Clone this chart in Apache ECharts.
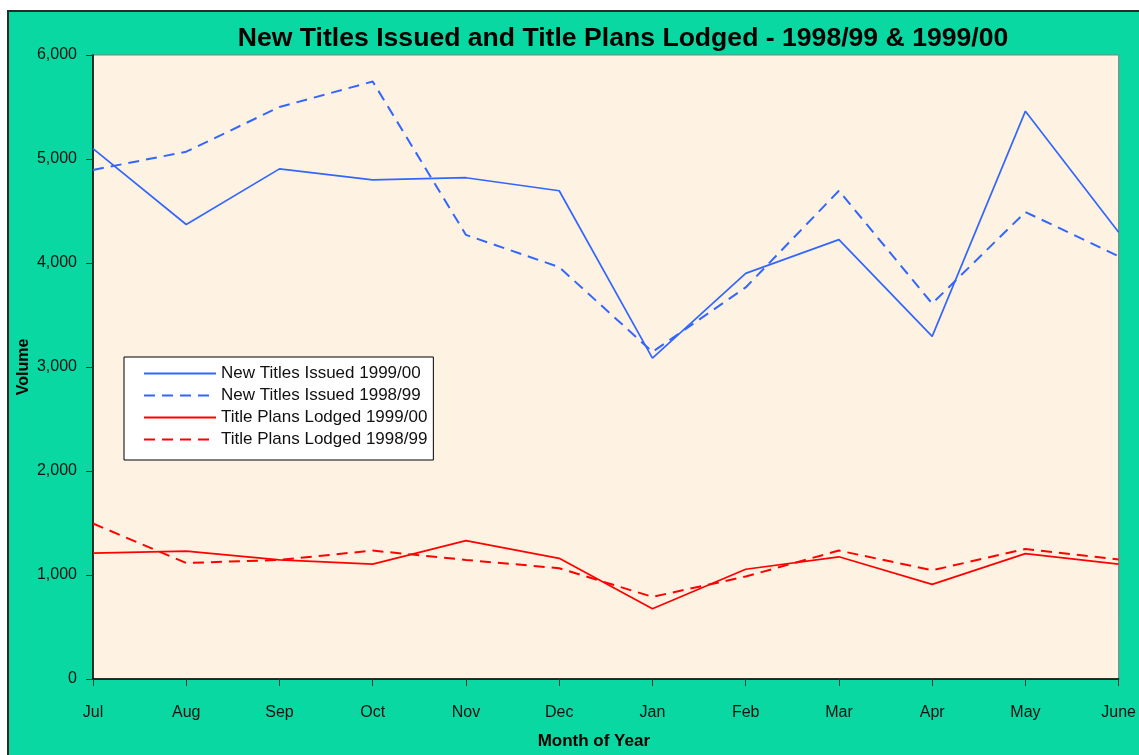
<!DOCTYPE html>
<html>
<head>
<meta charset="utf-8">
<script src="https://cdn.jsdelivr.net/npm/echarts@6/dist/echarts.min.js"></script>
<style>
  html, body { margin: 0; padding: 0; background: #ffffff; }
  #main { width: 1139px; height: 755px; }
</style>
</head>
<body>
<div id="main"></div>
<script>
var months = ['Jul', 'Aug', 'Sep', 'Oct', 'Nov', 'Dec', 'Jan', 'Feb', 'Mar', 'Apr', 'May', 'June'];
var titles9900 = [5100, 4370, 4905, 4800, 4820, 4695, 3085, 3900, 4225, 3295, 5460, 4295];
var titles9899 = [4895, 5070, 5500, 5745, 4270, 3960, 3145, 3765, 4695, 3610, 4490, 4065];
var plans9900 = [1210, 1230, 1145, 1105, 1330, 1160, 675, 1055, 1175, 910, 1205, 1105];
var plans9899 = [1495, 1115, 1145, 1235, 1145, 1065, 790, 985, 1235, 1045, 1250, 1150];
var yTicks = [0, 1000, 2000, 3000, 4000, 5000, 6000];

var arial = "'Liberation Sans', Arial, sans-serif";

var dom = document.getElementById('main');
var myChart = echarts.init(dom);

function lineSeries(name, data, color, type) {
    return {
        name: name,
        type: 'line',
        data: data,
        symbol: 'none',
        smooth: false,
        lineStyle: { color: color, width: type === 'solid' ? 1.7 : 2, type: type },
        itemStyle: { color: color }
    };
}

var option = {
    animation: false,
    graphic: [{
        type: 'rect',
        z: -10,
        shape: { x: 8, y: 11, width: 1200, height: 800 },
        style: { fill: '#0ad8a2', stroke: '#2a2a2a', lineWidth: 2 }
    }],
    title: {
        text: 'New Titles Issued and Title Plans Lodged - 1998/99 & 1999/00',
        left: 618,
        textAlign: 'center',
        top: 20,
        textStyle: { fontFamily: arial, fontWeight: 'bold', fontSize: 26.6, color: '#000' }
    },
    legend: {
        orient: 'vertical',
        left: 124,
        top: 357,
        backgroundColor: '#ffffff',
        borderColor: '#000000',
        borderWidth: 1,
        borderRadius: 0,
        padding: [8, 6, 12, 19],
        itemWidth: 72,
        itemHeight: 14,
        itemGap: 5,
        itemStyle: { opacity: 0 },
        textStyle: { fontFamily: arial, fontSize: 17, color: '#111' },
        data: ['New Titles Issued 1999/00', 'New Titles Issued 1998/99',
               'Title Plans Lodged 1999/00', 'Title Plans Lodged 1998/99']
    },
    grid: {
        left: 93,
        top: 55,
        right: 20,
        bottom: 76,
        show: true,
        backgroundColor: '#fef3e2',
        borderColor: '#808080',
        borderWidth: 1
    },
    xAxis: {
        type: 'category',
        data: months,
        boundaryGap: false,
        name: 'Month of Year',
        nameLocation: 'middle',
        nameGap: 54,
        nameTextStyle: { fontFamily: arial, fontWeight: 'bold', fontSize: 17, color: '#000', padding: [0, 24, 0, 0] },
        axisLine: { lineStyle: { color: '#000', width: 1.5 } },
        axisTick: { show: true, length: 7, alignWithLabel: true, lineStyle: { color: '#333' } },
        axisLabel: { margin: 26, fontFamily: arial, fontSize: 16, color: '#111' },
        splitLine: { show: false }
    },
    yAxis: {
        type: 'value',
        min: 0,
        max: 6000,
        interval: 1000,
        name: 'Volume',
        nameLocation: 'middle',
        nameGap: 61,
        nameMoveOverlap: false,
        nameTextStyle: { fontFamily: arial, fontWeight: 'bold', fontSize: 16, color: '#000' },
        axisLine: { show: true, lineStyle: { color: '#000', width: 1.5 } },
        axisTick: { show: true, length: 7, lineStyle: { color: '#333' } },
        axisLabel: {
            margin: 16,
            fontFamily: arial,
            fontSize: 16,
            color: '#111',
            formatter: function (v) { return yTicks.indexOf(v) >= 0 ? v.toLocaleString('en-US') : ''; }
        },
        splitLine: { show: false }
    },
    series: [
        lineSeries('New Titles Issued 1999/00', titles9900, '#3366ff', 'solid'),
        lineSeries('New Titles Issued 1998/99', titles9899, '#3366ff', [11, 7]),
        lineSeries('Title Plans Lodged 1999/00', plans9900, '#ff0000', 'solid'),
        lineSeries('Title Plans Lodged 1998/99', plans9899, '#ff0000', [11, 7])
    ]
};

myChart.setOption(option, true);
</script>
</body>
</html>
